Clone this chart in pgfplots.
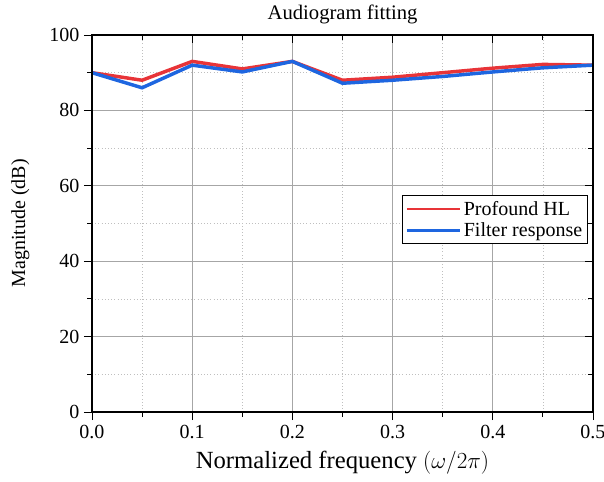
\documentclass[border=0pt]{standalone}
\usepackage{pgfplots}
\pgfplotsset{compat=1.18}
\usepackage{fontspec}
\setmainfont{Liberation Serif}
\definecolor{cred}{RGB}{232,52,56}
\definecolor{cblue}{RGB}{30,102,224}
\begin{document}
\begin{tikzpicture}
\pgfplotsset{common/.style={
  scale only axis, width=375.75pt, height=282.75pt,
  xmin=0, xmax=0.5, ymin=0, ymax=100,
  xtick={0,0.1,...,0.5}, ytick={0,20,...,100},
  minor x tick num=1, minor y tick num=1,
  axis line style={black, line width=0.9pt},
  major tick length=6pt, minor tick length=3.5pt,
  tick style={black, line width=0.7pt},
}}
\begin{axis}[common,
  xtick pos=left, ytick pos=left, tick align=outside,
  grid=both,
  major grid style={gray!70, line width=0.5pt},
  minor grid style={gray!50, dotted, line width=0.5pt},
  /pgf/number format/assume math mode=true,
  xticklabel style={/pgf/number format/fixed, /pgf/number format/fixed zerofill, /pgf/number format/precision=1, font=\fontsize{15}{17}\selectfont},
  yticklabel style={font=\fontsize{15}{17}\selectfont},
  title={Audiogram fitting},
  title style={font=\fontsize{15.5}{17}\selectfont, yshift=-1pt},
  xlabel={Normalized frequency $(\omega/2\pi)$},
  xlabel style={font=\fontsize{18.5}{20}\selectfont, yshift=-3pt},
  ylabel={Magnitude (dB)},
  ylabel style={font=\fontsize{15}{17}\selectfont, yshift=8pt},
  legend style={at={(0.99,0.51)}, anchor=east, draw=black, line width=0.7pt,
    font=\fontsize{15}{17}\selectfont, inner sep=2pt, row sep=0pt},
  legend cell align=left,
  legend image code/.code={\draw[#1, line width=2pt] (0cm,0cm) -- (1.4cm,0cm);},
]
\addplot[cred, line width=2.6pt] coordinates {
(0,90) (0.05,88) (0.1,93) (0.15,91) (0.2,93) (0.25,88) (0.3,88.8) (0.35,90) (0.4,91.2) (0.45,92.2) (0.5,92)};
\addlegendentry{Profound HL}
\addplot[cblue, line width=2.6pt] coordinates {
(0,90) (0.05,86) (0.1,92) (0.15,90.2) (0.2,93) (0.25,87.2) (0.3,88) (0.35,89) (0.4,90.2) (0.45,91.3) (0.5,92)};
\addlegendentry{Filter response}
\end{axis}
\begin{axis}[common, xtick pos=right, ytick pos=right, tick align=inside,
  xticklabels={}, yticklabels={}]
\end{axis}
\pgfresetboundingbox
\path (-69pt,-52.5pt) rectangle (384pt,309pt);
\end{tikzpicture}
\end{document}
